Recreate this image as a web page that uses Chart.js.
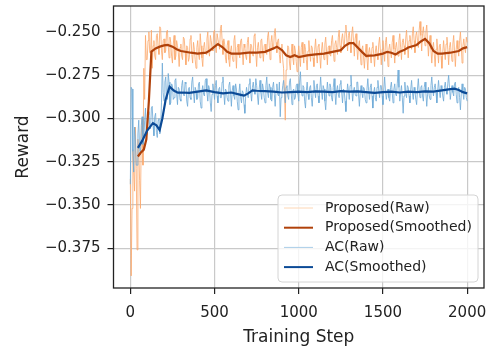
<!DOCTYPE html>
<html>
<head>
<meta charset="utf-8">
<script src="https://cdn.jsdelivr.net/npm/chart.js@4/dist/chart.umd.min.js"></script>
<style>
  html, body { margin: 0; padding: 0; background: #fff; }
  #wrap { width: 491px; height: 350px; position: relative; }
</style>
</head>
<body>
<div id="wrap"><canvas id="grafico"></canvas></div>
<script>
// datos (raw cada 5 pasos, suavizado en puntos clave)
const rawSteps = [];
for (let s = 0; s <= 2000; s += 5) rawSteps.push(s);

const proposedRaw = [
  -0.335, -0.391, -0.352, -0.318, -0.331, -0.342, -0.305, -0.329, -0.376, -0.312,
  -0.318, -0.336, -0.352, -0.309, -0.300, -0.327, -0.271, -0.289, -0.252, -0.266,
  -0.266, -0.255, -0.250, -0.262, -0.262, -0.249, -0.271, -0.258, -0.255, -0.264,
  -0.266, -0.252, -0.251, -0.259, -0.263, -0.247, -0.248, -0.261, -0.266, -0.255,
  -0.254, -0.262, -0.261, -0.250, -0.249, -0.258, -0.265, -0.253, -0.256, -0.264,
  -0.268, -0.257, -0.252, -0.266, -0.264, -0.255, -0.258, -0.262, -0.270, -0.259,
  -0.257, -0.264, -0.266, -0.253, -0.254, -0.261, -0.269, -0.258, -0.259, -0.267,
  -0.265, -0.254, -0.252, -0.263, -0.268, -0.256, -0.260, -0.266, -0.271, -0.259,
  -0.255, -0.263, -0.266, -0.251, -0.258, -0.265, -0.270, -0.259, -0.256, -0.262,
  -0.263, -0.254, -0.250, -0.261, -0.264, -0.252, -0.255, -0.259, -0.261, -0.250,
  -0.249, -0.258, -0.262, -0.251, -0.251, -0.257, -0.260, -0.248, -0.246, -0.255,
  -0.263, -0.254, -0.257, -0.265, -0.268, -0.258, -0.255, -0.266, -0.270, -0.261,
  -0.258, -0.264, -0.267, -0.255, -0.252, -0.261, -0.271, -0.259, -0.257, -0.263,
  -0.265, -0.255, -0.254, -0.262, -0.269, -0.257, -0.259, -0.264, -0.266, -0.256,
  -0.253, -0.261, -0.268, -0.257, -0.258, -0.263, -0.264, -0.252, -0.251, -0.262,
  -0.270, -0.259, -0.256, -0.262, -0.265, -0.255, -0.254, -0.261, -0.267, -0.258,
  -0.257, -0.262, -0.263, -0.253, -0.250, -0.258, -0.266, -0.256, -0.252, -0.259,
  -0.260, -0.251, -0.248, -0.256, -0.262, -0.255, -0.254, -0.263, -0.268, -0.259,
  -0.257, -0.266, -0.271, -0.285, -0.301, -0.272, -0.266, -0.258, -0.259, -0.268,
  -0.272, -0.263, -0.257, -0.265, -0.269, -0.258, -0.261, -0.267, -0.273, -0.264,
  -0.258, -0.264, -0.270, -0.259, -0.256, -0.263, -0.268, -0.257, -0.260, -0.266,
  -0.272, -0.261, -0.255, -0.262, -0.267, -0.258, -0.259, -0.265, -0.270, -0.260,
  -0.254, -0.263, -0.268, -0.258, -0.257, -0.264, -0.271, -0.261, -0.256, -0.262,
  -0.266, -0.257, -0.253, -0.261, -0.269, -0.259, -0.258, -0.263, -0.264, -0.255,
  -0.252, -0.260, -0.267, -0.257, -0.255, -0.259, -0.263, -0.253, -0.249, -0.258,
  -0.262, -0.254, -0.251, -0.257, -0.259, -0.250, -0.246, -0.254, -0.261, -0.252,
  -0.250, -0.256, -0.262, -0.251, -0.247, -0.255, -0.264, -0.254, -0.251, -0.259,
  -0.266, -0.258, -0.255, -0.262, -0.269, -0.260, -0.258, -0.265, -0.271, -0.262,
  -0.257, -0.265, -0.272, -0.262, -0.259, -0.264, -0.268, -0.259, -0.256, -0.263,
  -0.270, -0.261, -0.258, -0.263, -0.266, -0.257, -0.253, -0.261, -0.269, -0.260,
  -0.255, -0.262, -0.267, -0.256, -0.253, -0.261, -0.270, -0.260, -0.257, -0.262,
  -0.265, -0.256, -0.252, -0.260, -0.268, -0.259, -0.256, -0.261, -0.264, -0.255,
  -0.251, -0.259, -0.266, -0.256, -0.254, -0.258, -0.263, -0.254, -0.249, -0.257,
  -0.265, -0.255, -0.252, -0.257, -0.260, -0.251, -0.247, -0.255, -0.262, -0.252,
  -0.250, -0.255, -0.259, -0.249, -0.244, -0.252, -0.261, -0.251, -0.247, -0.253,
  -0.258, -0.250, -0.246, -0.255, -0.264, -0.256, -0.252, -0.260, -0.268, -0.259,
  -0.256, -0.263, -0.270, -0.260, -0.254, -0.261, -0.268, -0.258, -0.257, -0.264,
  -0.271, -0.262, -0.255, -0.261, -0.266, -0.257, -0.253, -0.260, -0.269, -0.259,
  -0.256, -0.262, -0.267, -0.257, -0.252, -0.261, -0.270, -0.260, -0.255, -0.260,
  -0.264, -0.255, -0.250, -0.258, -0.268, -0.258, -0.254, -0.259, -0.262, -0.253,
  -0.256
];

const acRaw = [
  -0.338, -0.282, -0.283, -0.319, -0.331, -0.305, -0.312, -0.327, -0.327, -0.309,
  -0.301, -0.318, -0.321, -0.304, -0.299, -0.315, -0.312, -0.301, -0.294, -0.310,
  -0.309, -0.298, -0.296, -0.305, -0.306, -0.294, -0.293, -0.304, -0.310, -0.299,
  -0.297, -0.308, -0.311, -0.301, -0.300, -0.309, -0.305, -0.291, -0.268, -0.285,
  -0.290, -0.279, -0.276, -0.287, -0.289, -0.274, -0.279, -0.292, -0.291, -0.280,
  -0.281, -0.289, -0.288, -0.278, -0.277, -0.286, -0.292, -0.282, -0.283, -0.289,
  -0.290, -0.281, -0.278, -0.286, -0.287, -0.279, -0.280, -0.290, -0.293, -0.283,
  -0.282, -0.288, -0.289, -0.279, -0.276, -0.285, -0.291, -0.282, -0.284, -0.289,
  -0.288, -0.280, -0.279, -0.290, -0.294, -0.284, -0.281, -0.286, -0.287, -0.278,
  -0.277, -0.285, -0.290, -0.281, -0.283, -0.291, -0.296, -0.286, -0.280, -0.284,
  -0.289, -0.281, -0.278, -0.287, -0.291, -0.283, -0.282, -0.288, -0.288, -0.279,
  -0.276, -0.285, -0.292, -0.283, -0.284, -0.288, -0.290, -0.281, -0.279, -0.285,
  -0.293, -0.284, -0.281, -0.287, -0.289, -0.280, -0.283, -0.290, -0.295, -0.285,
  -0.280, -0.288, -0.291, -0.284, -0.285, -0.292, -0.297, -0.287, -0.282, -0.286,
  -0.288, -0.280, -0.277, -0.285, -0.290, -0.282, -0.279, -0.284, -0.286, -0.277,
  -0.281, -0.287, -0.292, -0.283, -0.278, -0.285, -0.289, -0.280, -0.283, -0.288,
  -0.291, -0.281, -0.276, -0.285, -0.288, -0.280, -0.282, -0.289, -0.290, -0.282,
  -0.279, -0.286, -0.293, -0.284, -0.280, -0.286, -0.287, -0.279, -0.299, -0.288,
  -0.286, -0.281, -0.278, -0.285, -0.291, -0.282, -0.281, -0.287, -0.289, -0.279,
  -0.277, -0.285, -0.292, -0.284, -0.283, -0.289, -0.288, -0.281, -0.280, -0.286,
  -0.290, -0.279, -0.273, -0.284, -0.287, -0.281, -0.282, -0.290, -0.294, -0.284,
  -0.279, -0.286, -0.289, -0.282, -0.281, -0.288, -0.293, -0.285, -0.278, -0.284,
  -0.288, -0.281, -0.280, -0.287, -0.291, -0.283, -0.276, -0.284, -0.289, -0.281,
  -0.283, -0.290, -0.295, -0.286, -0.279, -0.284, -0.287, -0.280, -0.282, -0.288,
  -0.290, -0.282, -0.277, -0.285, -0.292, -0.284, -0.281, -0.286, -0.288, -0.280,
  -0.278, -0.285, -0.291, -0.283, -0.284, -0.290, -0.296, -0.287, -0.280, -0.284,
  -0.289, -0.281, -0.275, -0.283, -0.290, -0.284, -0.282, -0.286, -0.287, -0.279,
  -0.279, -0.286, -0.293, -0.285, -0.281, -0.285, -0.288, -0.282, -0.283, -0.289,
  -0.291, -0.283, -0.277, -0.284, -0.289, -0.282, -0.280, -0.287, -0.294, -0.285,
  -0.282, -0.288, -0.290, -0.282, -0.278, -0.284, -0.288, -0.281, -0.281, -0.287,
  -0.292, -0.283, -0.276, -0.284, -0.289, -0.285, -0.283, -0.288, -0.290, -0.282,
  -0.279, -0.285, -0.291, -0.283, -0.280, -0.286, -0.287, -0.280, -0.272, -0.282,
  -0.290, -0.285, -0.281, -0.288, -0.297, -0.287, -0.279, -0.285, -0.288, -0.281,
  -0.282, -0.287, -0.291, -0.283, -0.278, -0.285, -0.289, -0.282, -0.284, -0.289,
  -0.292, -0.283, -0.277, -0.284, -0.288, -0.282, -0.281, -0.287, -0.290, -0.282,
  -0.279, -0.285, -0.293, -0.286, -0.282, -0.287, -0.289, -0.281, -0.276, -0.283,
  -0.287, -0.282, -0.280, -0.285, -0.291, -0.284, -0.278, -0.284, -0.288, -0.281,
  -0.283, -0.287, -0.290, -0.282, -0.279, -0.284, -0.286, -0.280, -0.275, -0.282,
  -0.289, -0.284, -0.281, -0.285, -0.287, -0.280, -0.279, -0.286, -0.291, -0.284,
  -0.282, -0.288, -0.295, -0.286, -0.280, -0.285, -0.289, -0.282, -0.283, -0.288,
  -0.290
];

const proposedSmoothSteps = [45, 60, 80, 95, 110, 125, 150, 175, 200, 222, 250, 275, 300, 360, 400, 450, 475, 500, 520, 550, 575, 600, 650, 700, 750, 800, 850, 870, 900, 925, 950, 975, 1000, 1050, 1100, 1150, 1200, 1250, 1275, 1300, 1325, 1350, 1375, 1400, 1450, 1500, 1525, 1550, 1575, 1600, 1625, 1650, 1700, 1725, 1750, 1775, 1800, 1825, 1850, 1900, 1950, 1975, 2000];
const proposedSmooth = [-0.322, -0.320, -0.318, -0.312, -0.290, -0.2614, -0.2595, -0.2585, -0.2578, -0.2575, -0.2585, -0.260, -0.261, -0.262, -0.2625, -0.262, -0.2605, -0.2585, -0.257, -0.259, -0.2615, -0.2625, -0.2625, -0.262, -0.262, -0.2615, -0.2595, -0.2585, -0.2605, -0.2635, -0.2645, -0.2635, -0.2645, -0.2635, -0.263, -0.2625, -0.2615, -0.2605, -0.258, -0.2565, -0.2565, -0.259, -0.2615, -0.2638, -0.2635, -0.2625, -0.2615, -0.262, -0.263, -0.2615, -0.2605, -0.259, -0.2575, -0.2555, -0.254, -0.2565, -0.261, -0.2625, -0.2625, -0.262, -0.261, -0.2595, -0.2588];

const acSmoothSteps = [45, 70, 100, 134, 155, 174, 190, 210, 233, 260, 282, 300, 350, 400, 450, 500, 550, 600, 650, 675, 700, 725, 750, 800, 850, 900, 950, 1000, 1050, 1100, 1150, 1200, 1250, 1300, 1350, 1400, 1450, 1500, 1550, 1600, 1650, 1700, 1750, 1800, 1850, 1900, 1925, 1950, 1975, 2000];
const acSmooth = [-0.317, -0.313, -0.307, -0.3027, -0.304, -0.3067, -0.300, -0.289, -0.2816, -0.284, -0.2851, -0.285, -0.2852, -0.2845, -0.2838, -0.2848, -0.2855, -0.285, -0.2862, -0.2868, -0.2855, -0.2838, -0.284, -0.2842, -0.2845, -0.285, -0.2848, -0.2845, -0.2848, -0.2843, -0.2845, -0.2848, -0.2842, -0.2845, -0.2843, -0.2848, -0.2852, -0.2848, -0.2845, -0.285, -0.2845, -0.2848, -0.2843, -0.2845, -0.2838, -0.283, -0.2828, -0.2835, -0.2848, -0.2855];

const xTicks = [0, 500, 1000, 1500, 2000];
const yTicks = [-0.375, -0.35, -0.325, -0.3, -0.275, -0.25];

const seriesNames = ['Proposed(Raw)', 'Proposed(Smoothed)', 'AC(Raw)', 'AC(Smoothed)'];
const seriesColors = ['rgba(251,170,110,0.82)', '#b0410a', 'rgba(110,170,215,0.82)', '#0b4a96'];
const legendColors = ['#fdd6b4', '#b0410a', '#a9cde8', '#0b4a96'];

function puntos(xs, ys) {
  return xs.map((x, i) => ({ x: x, y: ys[i] }));
}

const FONT = "'DejaVu Sans', sans-serif";

const marcoYLeyenda = {
  id: 'marcoYLeyenda',
  afterDraw(chart) {
    const c = chart.ctx;
    const a = chart.chartArea;
    c.save();
    // marco negro
    c.strokeStyle = '#222';
    c.lineWidth = 1.3;
    c.strokeRect(a.left, a.top, a.right - a.left, a.bottom - a.top);

    // leyenda dentro del area
    const bx = 278, by = 195, bw = 200, bh = 87;
    c.beginPath();
    c.roundRect(bx, by, bw, bh, 4);
    c.fillStyle = 'rgba(255,255,255,0.8)';
    c.fill();
    c.strokeStyle = '#d4d4d4';
    c.lineWidth = 1;
    c.stroke();

    c.font = '14px ' + FONT;
    c.textBaseline = 'middle';
    c.textAlign = 'left';
    seriesNames.forEach((name, i) => {
      const yy = by + 13 + i * 19.7;
      c.beginPath();
      c.moveTo(284, yy);
      c.lineTo(313, yy);
      c.strokeStyle = legendColors[i];
      c.lineWidth = (i % 2 === 1) ? 2 : 1;
      c.stroke();
      c.fillStyle = '#222';
      c.fillText(name, 325, yy);
    });
    c.restore();
  }
};

const ctx = document.getElementById('grafico');

new Chart(ctx, {
  type: 'line',
  data: {
    datasets: [
      {
        label: seriesNames[0],
        data: puntos(rawSteps, proposedRaw),
        borderColor: seriesColors[0],
        borderWidth: 1,
        order: 3
      },
      {
        label: seriesNames[1],
        data: puntos(proposedSmoothSteps, proposedSmooth),
        borderColor: seriesColors[1],
        borderWidth: 2.2,
        order: 1
      },
      {
        label: seriesNames[2],
        data: puntos(rawSteps, acRaw),
        borderColor: seriesColors[2],
        borderWidth: 1,
        order: 2
      },
      {
        label: seriesNames[3],
        data: puntos(acSmoothSteps, acSmooth),
        borderColor: seriesColors[3],
        borderWidth: 2.2,
        order: 0
      }
    ]
  },
  options: {
    responsive: true,
    maintainAspectRatio: false,
    animation: false,
    layout: { padding: { left: 9, top: 6, right: 7, bottom: 0 } },
    elements: {
      point: { radius: 0 },
      line: { tension: 0, fill: false }
    },
    scales: {
      x: {
        type: 'linear',
        min: -100,
        max: 2100,
        afterBuildTicks: (scale) => { scale.ticks = xTicks.map(v => ({ value: v })); },
        afterFit: (scale) => { scale.height = 62; scale.paddingLeft = 0; scale.paddingRight = 0; },
        grid: { color: '#c9c9c9', lineWidth: 1.2, drawTicks: true, tickLength: 6, tickColor: '#222', tickWidth: 1.2 },
        border: { display: false },
        ticks: {
          padding: 10,
          color: '#222',
          font: { family: FONT, size: 15 },
          maxRotation: 0,
          callback: (v) => String(v)
        },
        title: {
          display: true,
          text: 'Training Step',
          color: '#222',
          font: { family: FONT, size: 17 },
          padding: { top: 4, bottom: 2 }
        }
      },
      y: {
        type: 'linear',
        min: -0.398,
        max: -0.235,
        afterBuildTicks: (scale) => { scale.ticks = yTicks.map(v => ({ value: v })); },
        afterFit: (scale) => { scale.width = 104.5; scale.paddingTop = 0; scale.paddingBottom = 0; },
        grid: { color: '#c9c9c9', lineWidth: 1.2, drawTicks: true, tickLength: 6, tickColor: '#222', tickWidth: 1.2 },
        border: { display: false },
        ticks: {
          padding: 7,
          color: '#222',
          font: { family: FONT, size: 15 },
          callback: (v) => '\u2212' + Math.abs(v).toFixed(3)
        },
        title: {
          display: true,
          text: 'Reward',
          color: '#222',
          font: { family: FONT, size: 17 },
          padding: { top: 4, bottom: 4 }
        }
      }
    },
    plugins: {
      legend: { display: false },
      tooltip: { enabled: false }
    }
  },
  plugins: [marcoYLeyenda]
});
</script>
</body>
</html>
